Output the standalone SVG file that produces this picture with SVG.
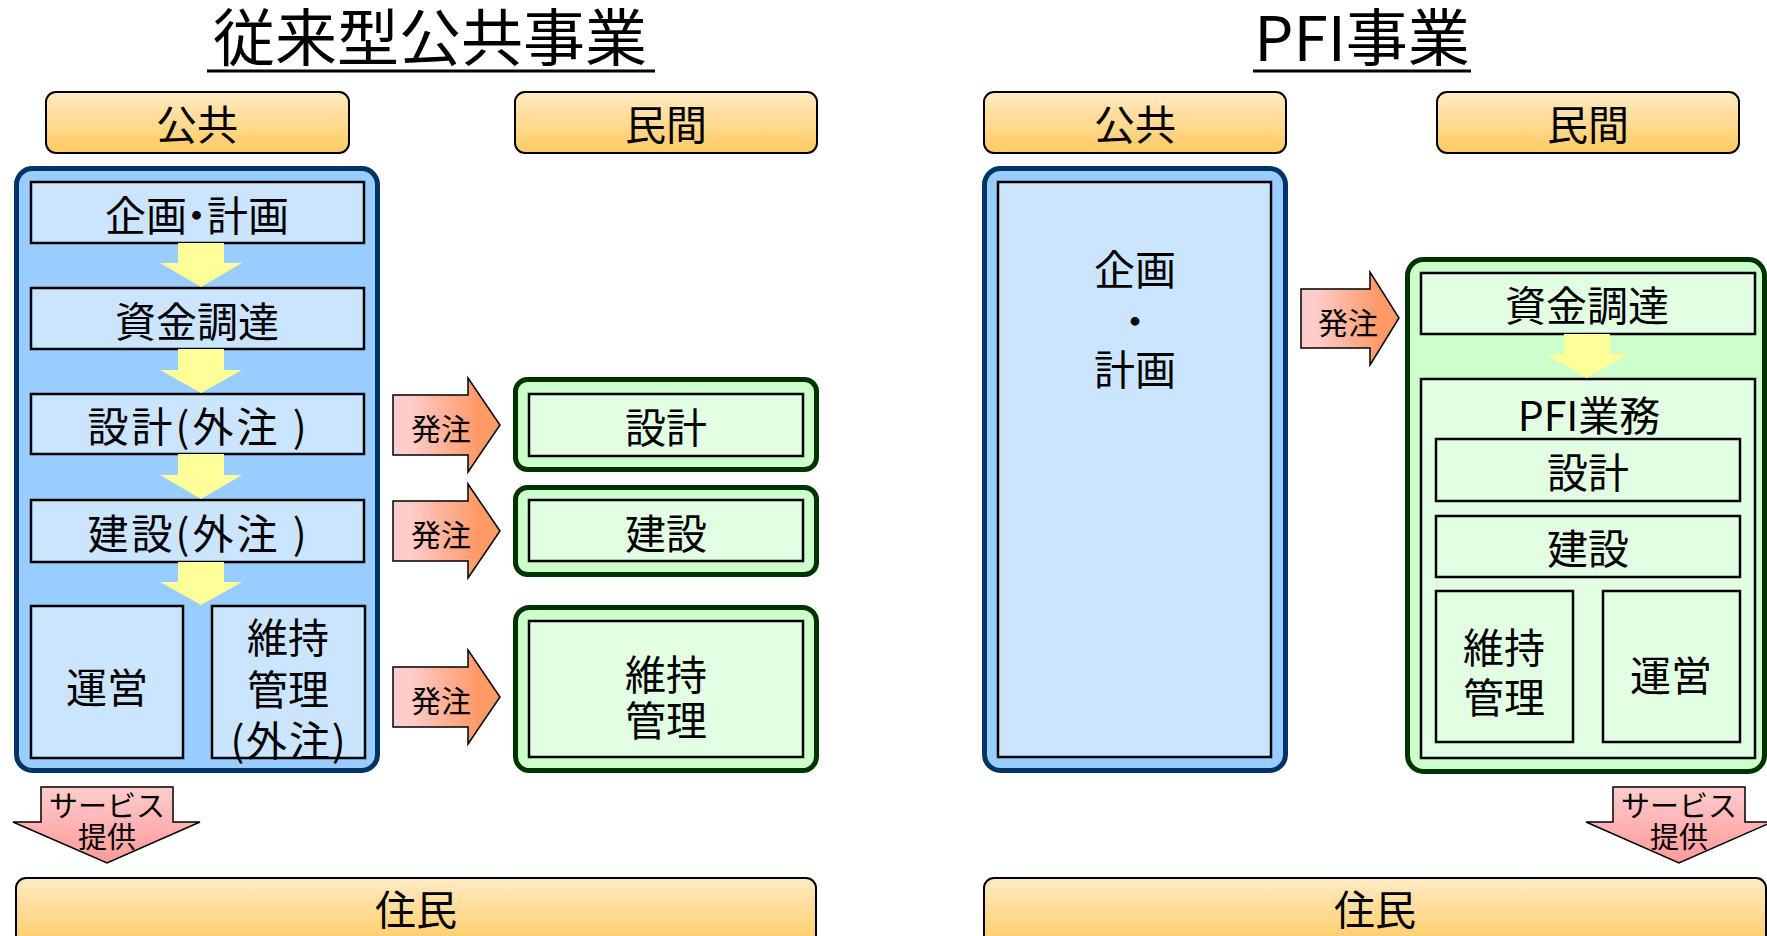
<svg xmlns="http://www.w3.org/2000/svg" width="1767" height="936" viewBox="0 0 1767 936">
<defs>
<linearGradient id="hdr" x1="0" y1="0" x2="0" y2="1"><stop offset="0" stop-color="#FFEBC4"/><stop offset="1" stop-color="#FFCA60"/></linearGradient>
<linearGradient id="ord" x1="0" y1="0" x2="1" y2="0"><stop offset="0.15" stop-color="#FFCCCC"/><stop offset="0.8" stop-color="#FF9966"/></linearGradient>
<linearGradient id="svc" x1="0" y1="0" x2="0" y2="1"><stop offset="0" stop-color="#FFCCCC"/><stop offset="1" stop-color="#FF9999"/></linearGradient>
</defs>
<style>
text{font-family:"Noto Sans CJK JP","Noto Sans",sans-serif;fill:#000;text-anchor:middle;dominant-baseline:central;white-space:pre}
.t{font-size:41px}
.h{font-size:41px}
.s{font-size:29px}
.o{font-size:30px}
.title{font-size:62px;dominant-baseline:auto}
.hdr{fill:url(#hdr);stroke:#000;stroke-width:2}
.bo{fill:#99CCFF;stroke:#003366;stroke-width:5}
.bi{fill:#CCE5FF;stroke:#000;stroke-width:2.5}
.go{fill:#CCFFCC;stroke:#003300;stroke-width:5}
.gi{fill:#E3FFE3;stroke:#000;stroke-width:2.5}
.ya{fill:#FFFF99;stroke:none}
.oa{fill:url(#ord);stroke:#000;stroke-width:1.5}
.sa{fill:url(#svc);stroke:#000;stroke-width:1.5}
.ul{stroke:#000;stroke-width:3}
</style>

<g id="title-left"><text class="title" x="430" y="61">従来型公共事業</text><line class="ul" x1="207" y1="71" x2="655" y2="71"/></g>
<g id="title-right"><text class="title" x="1362" y="61">PFI事業</text><line class="ul" x1="1253" y1="71" x2="1471" y2="71"/></g>

<g id="hdr-l-public"><rect class="hdr" x="46" y="92" width="303" height="61" rx="10"/><text class="h" x="197" y="122">公共</text></g>
<g id="hdr-l-private"><rect class="hdr" x="515" y="92" width="302" height="61" rx="10"/><text class="h" x="666" y="122">民間</text></g>
<g id="hdr-r-public"><rect class="hdr" x="984" y="92" width="302" height="61" rx="10"/><text class="h" x="1135" y="122">公共</text></g>
<g id="hdr-r-private"><rect class="hdr" x="1437" y="92" width="302" height="61" rx="10"/><text class="h" x="1588" y="122">民間</text></g>

<g id="left-public">
<rect class="bo" x="16.5" y="168.5" width="361" height="602" rx="16"/>
<g id="l-plan"><rect class="bi" x="31" y="182" width="333" height="61"/><text class="t" x="197" y="213">企画<tspan dx="-11">・</tspan><tspan dx="-10">計画</tspan></text></g>
<g id="l-fund"><rect class="bi" x="31" y="288" width="333" height="61"/><text class="t" x="197" y="319">資金調達</text></g>
<g id="l-design"><rect class="bi" x="31" y="394" width="333" height="60"/><text class="t" x="197" y="424" textLength="219" lengthAdjust="spacing">設計(外注 )</text></g>
<g id="l-build"><rect class="bi" x="31" y="500" width="333" height="62"/><text class="t" x="197" y="531" textLength="219" lengthAdjust="spacing">建設(外注 )</text></g>
<g id="l-ops"><rect class="bi" x="31" y="606" width="152" height="152"/><text class="t" x="107" y="685">運営</text></g>
<g id="l-maint"><rect class="bi" x="212" y="606" width="153" height="152"/><text class="t" x="288" y="635">維持<tspan x="288" dy="52">管理</tspan><tspan x="288" dy="51" textLength="115" lengthAdjust="spacing">(外注)</tspan></text></g>
</g>

<g id="left-private">
<g id="lp-design"><rect class="go" x="515.5" y="379.5" width="301" height="90" rx="12"/><rect class="gi" x="529" y="394" width="274" height="62"/><text class="t" x="666" y="425">設計</text></g>
<g id="lp-build"><rect class="go" x="515.5" y="487.5" width="301" height="87" rx="12"/><rect class="gi" x="529" y="500" width="274" height="61"/><text class="t" x="666" y="531">建設</text></g>
<g id="lp-maint"><rect class="go" x="515.5" y="607.5" width="301" height="163" rx="14"/><rect class="gi" x="529" y="621" width="274" height="136"/><text class="t" x="666" y="672">維持<tspan x="666" dy="46">管理</tspan></text></g>
</g>

<g id="right-public">
<rect class="bo" x="984.5" y="168.5" width="301" height="602" rx="16"/>
<rect class="bi" x="998" y="182" width="273" height="575"/>
<text class="t" x="1135" y="267">企画<tspan x="1135" dy="52">・</tspan><tspan x="1135" dy="48">計画</tspan></text>
</g>

<g id="right-private">
<rect class="go" x="1407.5" y="259.5" width="357" height="512" rx="16"/>
<g id="r-fund"><rect class="gi" x="1421" y="273" width="334" height="61"/><text class="t" x="1587" y="303">資金調達</text></g>
<g id="r-pfi"><rect class="gi" x="1421" y="379" width="334" height="379"/><text class="t" x="1589" y="413">PFI業務</text>
<g id="r-design"><rect class="gi" x="1436" y="439" width="304" height="62"/><text class="t" x="1588" y="470">設計</text></g>
<g id="r-build"><rect class="gi" x="1436" y="516" width="304" height="61"/><text class="t" x="1588" y="546">建設</text></g>
<g id="r-maint"><rect class="gi" x="1436" y="591" width="137" height="151"/><text class="t" x="1504" y="645">維持<tspan x="1504" dy="50">管理</tspan></text></g>
<g id="r-ops"><rect class="gi" x="1603" y="591" width="137" height="151"/><text class="t" x="1671" y="673">運営</text></g>
</g>
</g>

<g id="residents-left"><rect class="hdr" x="16" y="878" width="800" height="70" rx="10"/><text class="h" x="416" y="907">住民</text></g>
<g id="residents-right"><rect class="hdr" x="984" y="878" width="782" height="70" rx="10"/><text class="h" x="1375" y="907">住民</text></g>

<g id="connectors">
<path class="ya" d="M178,243 L224,243 L224,263 L242,263 L201,287 L160,263 L178,263 Z"/>
<path class="ya" d="M178,349 L224,349 L224,370 L242,370 L201,393 L160,370 L178,370 Z"/>
<path class="ya" d="M178,454 L224,454 L224,475 L242,475 L201,499 L160,475 L178,475 Z"/>
<path class="ya" d="M178,562 L224,562 L224,582 L242,582 L201,605 L160,582 L178,582 Z"/>
<path class="ya" d="M1564,334 L1610,334 L1610,354 L1628,354 L1587,378 L1546,354 L1564,354 Z"/>

<g><path class="oa" d="M393,395 L468,395 L468,378 L500,425 L468,472 L468,455 L393,455 Z"/><text class="o" x="441" y="427">発注</text></g>
<g><path class="oa" d="M393,501 L468,501 L468,484 L500,531 L468,578 L468,561 L393,561 Z"/><text class="o" x="441" y="533">発注</text></g>
<g><path class="oa" d="M393,667 L468,667 L468,650 L500,697 L468,744 L468,727 L393,727 Z"/><text class="o" x="441" y="699">発注</text></g>
<g><path class="oa" d="M1301,289 L1370,289 L1370,272 L1399,318 L1370,365 L1370,348 L1301,348 Z"/><text class="o" x="1348" y="321">発注</text></g>

<g><path class="sa" d="M41,787 L173,787 L173,822 L200,822 L107,863 L13,822 L41,822 Z"/><text class="s" x="107" y="804">サービス<tspan x="107" dy="31">提供</tspan></text></g>
<g><path class="sa" d="M1613,787 L1745,787 L1745,822 L1772,822 L1679,863 L1586,822 L1613,822 Z"/><text class="s" x="1679" y="804">サービス<tspan x="1679" dy="31">提供</tspan></text></g>
</g>
</svg>
